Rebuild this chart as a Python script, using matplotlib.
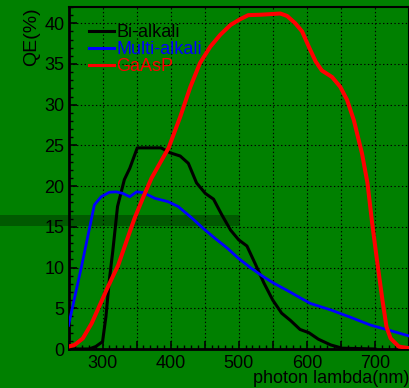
import matplotlib
matplotlib.use("Agg")
import matplotlib.pyplot as plt
from matplotlib.patches import Rectangle
from matplotlib.ticker import FixedLocator, MultipleLocator, FuncFormatter

plt.rcParams['font.family'] = ['Liberation Sans', 'DejaVu Sans']

# Quantum efficiency curves of photocathode materials
bi_wl = [250, 280, 290, 300, 305, 310, 315, 322, 332, 340, 351, 386, 399, 414, 426,
         438, 451, 463, 475, 488, 500, 512, 524, 537, 550, 563, 576, 590, 603, 617,
         635, 652, 700]
bi_qe = [0, 0, 0.3, 0.9, 4.0, 8.5, 12.0, 17.5, 20.8, 22.2, 24.7, 24.7, 24.1, 23.7, 22.8,
         20.4, 19.1, 18.4, 16.5, 14.6, 13.4, 12.65, 10.5, 8.1, 6.0, 4.4, 3.5, 2.4, 2.0, 1.2,
         0.5, 0.1, 0]

ma_wl = [250, 269, 288, 298, 310, 320, 330, 340, 350, 360, 377, 396, 411, 431, 448,
         465, 483, 500, 517, 534, 551, 571, 590, 605, 635, 664, 693, 723, 750]
ma_qe = [2.9, 10.1, 17.7, 18.7, 19.25, 19.3, 19.1, 18.7, 19.3, 19.2, 18.5, 18.1, 17.5, 16.1, 14.8,
         13.6, 12.4, 11.1, 10.0, 9.0, 8.1, 7.2, 6.3, 5.6, 4.8, 3.9, 2.95, 2.25, 1.6]

ga_wl = [250, 259, 271, 284, 296, 308, 323, 335, 347, 360, 372, 397, 414, 429, 443,
         458, 473, 488, 502, 514, 532, 561, 571, 583, 593, 603, 613, 622, 637, 649,
         659, 669, 681, 689, 696, 703, 711, 717, 723, 735, 750]
ga_qe = [0.3, 0.5, 1.3, 3.15, 5.4, 7.65, 10.3, 13.2, 16.05, 18.7, 21.0, 24.7, 28.5, 32.2, 35.1,
         37.1, 38.6, 39.8, 40.5, 41.0, 41.05, 41.2, 40.9, 40.0, 39.0, 37.1, 35.3, 34.2, 33.4, 32.2,
         30.6, 28.1, 24.0, 20.4, 15.4, 10.9, 6.0, 2.7, 1.3, 0.3, 0.1]

series = [("Bi-alkali", bi_wl, bi_qe, "black", 2.2),
          ("Multi-alkali", ma_wl, ma_qe, "#0000ff", 2.0),
          ("GaAsP", ga_wl, ga_qe, "#ff0000", 2.9)]

W, H = 410, 388
BG = "#008000"
fig = plt.figure(figsize=(W / 100, H / 100), dpi=100, facecolor=BG)

ax_l, ax_r, ax_t, ax_b = 68.5, 409, 7, 349
ax = fig.add_axes([ax_l / W, (H - ax_b) / H, (ax_r - ax_l) / W, (ax_b - ax_t) / H])
ax.set_facecolor("none")

# darker horizontal band across the pad
fig.patches.append(Rectangle((0, (H - 226) / H), 240 / W, 11 / H,
                             transform=fig.transFigure, facecolor="#005a00",
                             edgecolor="none", zorder=-1))

for name, wl, qe, col, lw in series:
    ax.plot(wl, qe, color=col, lw=lw, label=name, solid_joinstyle="round", zorder=3)

ax.set_xlim(250, 750)
ax.set_ylim(0, 42)

ax.xaxis.set_major_locator(FixedLocator(list(range(250, 751, 50))))
ax.xaxis.set_major_formatter(FuncFormatter(lambda v, p: f"{int(v)}" if int(v) % 100 == 0 and 300 <= v <= 700 else ""))
ax.xaxis.set_minor_locator(MultipleLocator(10))
ax.yaxis.set_major_locator(MultipleLocator(5))
ax.yaxis.set_minor_locator(MultipleLocator(1))

ax.tick_params(which="both", direction="in", colors="black", labelsize=13,
               top=False, right=False)
ax.tick_params(which="major", length=6, width=1.2)
ax.tick_params(which="minor", length=3, width=1.0)
ax.tick_params(axis="x", pad=4)
ax.tick_params(axis="y", pad=3)

ax.grid(True, which="major", color="black", lw=0.8, linestyle=(0, (1.2, 2.2)))

for side, w in (("left", 2.0), ("bottom", 2.0), ("top", 1.5), ("right", 1.5)):
    ax.spines[side].set_linewidth(w)
    ax.spines[side].set_color("black")

leg = ax.legend(loc="upper left", bbox_to_anchor=(0.04, 0.97), frameon=False,
                fontsize=13, handlelength=1.35, handletextpad=0.15,
                labelspacing=0.0, borderaxespad=0)
for txt, (_, _, _, col, _) in zip(leg.get_texts(), series):
    txt.set_color(col)
for ln in leg.get_lines():
    ln.set_linewidth(2.2)

fig.text(32 / W, (H - 7) / H, "QE(%)", rotation=90, ha="center", va="top", fontsize=14)
fig.text(409 / W, (H - 383) / H, "photon lambda(nm)", ha="right", va="baseline", fontsize=13)

fig.savefig("out.png", dpi=100, facecolor=BG)
